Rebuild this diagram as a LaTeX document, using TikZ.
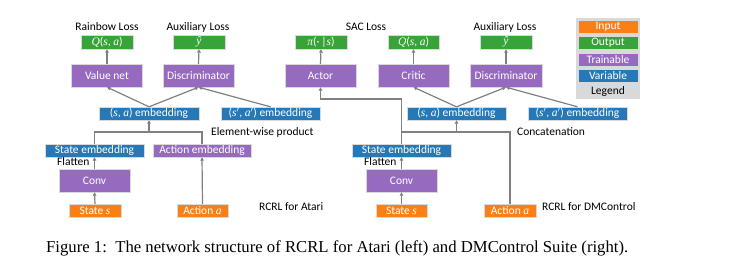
\documentclass[tikz,border=0pt]{standalone}
\usepackage{fontspec}
\setmainfont{Carlito}
\newfontfamily\capfont{Liberation Serif}
\newcommand\mi[1]{{\capfont\itshape #1}}
\newcommand\pr{${}'$}
\usetikzlibrary{arrows.meta}
\definecolor{cin}{RGB}{250,128,22}
\definecolor{cout}{RGB}{56,163,56}
\definecolor{ctr}{RGB}{150,106,190}
\definecolor{cvar}{RGB}{38,120,182}
\definecolor{clg}{RGB}{217,217,217}
\definecolor{cline}{RGB}{128,128,128}
\begin{document}
\begin{tikzpicture}[x=1pt,y=-1pt,
  box/.style={inner sep=0pt, text=white, font=\fontsize{11.5}{13}\selectfont, draw=white!85!black, line width=0.4pt},
  small/.style={box, minimum height=13pt},
  big/.style={box, minimum height=23pt, minimum width=71pt},
  inp/.style={small, fill=cin, minimum width=52pt},
  outp/.style={small, fill=cout, minimum width=52pt, minimum height=14pt},
  var/.style={small, fill=cvar, minimum width=99pt},
  trn/.style={big, fill=ctr},
  lbl/.style={inner sep=0pt, font=\fontsize{11.5}{13}\selectfont},
  conn/.style={draw=cline, line width=1.2pt},
  arr/.style={conn, -{Triangle[length=3.5pt,width=3.5pt]}}
]
\useasboundingbox (0,0) rectangle (746,275);

% ---------- Left: Atari ----------
\node[lbl] (lossR) at (107,27) {Rainbow Loss};
\node[outp] (qL) at (107,42) {\mi{Q}(\mi{s}, \mi{a})};
\node[lbl] (auxL) at (198,27) {Auxiliary Loss};
\node[outp] (yL) at (199,42) {\mi{ŷ}};
\node[trn] (valnet) at (107,75.5) {Value net};
\node[trn] (discL) at (198.5,75.5) {Discriminator};
\node[var, minimum width=100pt] (saL) at (149,113.5) {(\mi{s}, \mi{a}) embedding};
\node[var] (spL) at (270.5,113.5) {(\mi{s}\pr, \mi{a}\pr) embedding};
\node[lbl, anchor=west] (ewp) at (211,132) {Element-wise product};
\node[var] (seL) at (94.5,150.5) {State embedding};
\node[small, fill=ctr, minimum width=98pt] (aeL) at (202,150.5) {Action embedding};
\node[lbl, anchor=west] (flatL) at (57,162) {Flatten};
\node[trn] (convL) at (94.5,180.5) {Conv};
\node[inp] (stateL) at (95,210.5) {State \mi{s}};
\node[inp, minimum width=51pt] (actL) at (202.5,210.5) {Action \mi{a}};
\node[lbl, anchor=west] (rcrlA) at (259,207) {RCRL for Atari};

\coordinate (jL) at (saL.south |- 0,132);
\draw[arr] (stateL.north) -- (convL.south);
\draw[arr] (convL.north) -- (seL.south);
\draw[arr] (actL.north) -- (aeL.south);
\draw[conn] (seL.north) |- (jL) -| (aeL.north);
\draw[arr] (jL) -- (saL.south);
\draw[arr] (saL.north) -- (valnet.south);
\draw[arr] (saL.north) -- (discL.south);
\draw[arr] (spL.north) -- (discL.south);
\draw[arr] (valnet.north) -- (qL.south);
\draw[arr] (discL.north) -- (yL.south);

% ---------- Right: DMControl ----------
\node[outp] (pi) at (321,42) {\mi{π}(·\,|\mi{s})};
\node[lbl] (sac) at (366,27) {SAC Loss};
\node[outp, minimum width=51pt] (qR) at (413.5,42) {\mi{Q}(\mi{s}, \mi{a})};
\node[lbl] (auxR) at (505,27) {Auxiliary Loss};
\node[outp] (yR) at (506,42) {\mi{ŷ}};
\node[trn] (actor) at (320.5,75.5) {Actor};
\node[trn] (critic) at (413.5,75.5) {Critic};
\node[trn, minimum width=72pt] (discR) at (506,75.5) {Discriminator};
\node[var] (saR) at (456.5,113.5) {(\mi{s}, \mi{a}) embedding};
\node[var] (spR) at (577.5,113.5) {(\mi{s}\pr, \mi{a}\pr) embedding};
\node[lbl, anchor=west] (concat) at (517,132) {Concatenation};
\node[var] (seR) at (401.5,150.5) {State embedding};
\node[lbl, anchor=west] (flatR) at (364,162) {Flatten};
\node[trn] (convR) at (401.5,180.5) {Conv};
\node[inp, minimum width=51pt] (stateR) at (401.5,210.5) {State \mi{s}};
\node[inp] (actR) at (510,210.5) {Action \mi{a}};
\node[lbl, anchor=west] (rcrlD) at (542,207) {RCRL for DMControl};

\coordinate (jR) at (saR.south |- 0,132);
\coordinate (tR) at (seR.north |- 0,99);
\draw[arr] (stateR.north) -- (convR.south);
\draw[arr] (convR.north) -- (seR.south);
\draw[arr] (seR.north) -- (tR) -| (actor.south);
\draw[conn] (seR.north |- jR) -| (actR.north);
\draw[arr] (jR) -- (saR.south);
\draw[arr] (saR.north) -- (critic.south);
\draw[arr] (saR.north) -- (discR.south);
\draw[arr] (spR.north) -- (discR.south);
\draw[arr] (actor.north) -- (pi.south);
\draw[arr] (critic.north) -- (qR.south);
\draw[arr] (discR.north) -- (yR.south);

% ---------- Legend ----------
\node[fill=clg, minimum width=64pt, minimum height=81pt, inner sep=0pt] (lgbg) at (608,58.5) {};
\node[small, fill=cin, minimum width=60pt] (lgin) at (608,27) {Input};
\node[small, fill=cout, minimum width=60pt] (lgout) at (608,43) {Output};
\node[small, fill=ctr, minimum width=60pt] (lgtr) at (608,59.5) {Trainable};
\node[small, fill=cvar, minimum width=60pt] (lgvar) at (608,76) {Variable};
\node[lbl] (lgtxt) at (608,91) {Legend};

% ---------- Caption ----------
\node[inner sep=0pt, anchor=base west, font=\capfont\fontsize{16.7}{20}\selectfont] (cap) at (46,252)
  {Figure 1:\ \ The network structure of RCRL for Atari (left) and DMControl Suite (right).};
\end{tikzpicture}
\end{document}
